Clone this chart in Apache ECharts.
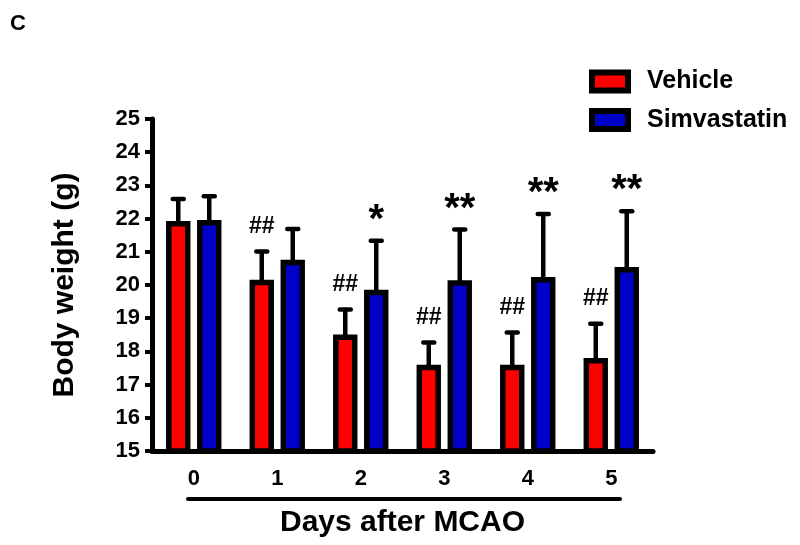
<!DOCTYPE html>
<html>
<head>
<meta charset="utf-8">
<script src="https://cdn.jsdelivr.net/npm/echarts@6/dist/echarts.min.js"></script>
<style>html,body{margin:0;padding:0;background:#fff}#c{width:800px;height:545px}</style>
</head>
<body>
<div id="c"></div>
<script>
// ---- data ----
const days = ['0', '1', '2', '3', '4', '5'];
const vehicleMean = [21.93, 20.16, 18.51, 17.60, 17.60, 17.80];
const vehicleErr  = [0.66, 0.85, 0.75, 0.67, 0.97, 1.03];
const simvaMean   = [21.96, 20.76, 19.86, 20.14, 20.24, 20.54];
const simvaErr    = [0.71, 0.93, 1.47, 1.53, 1.90, 1.68];
const vehicleSig  = ['', '##', '##', '##', '##', '##'];
const simvaSig    = ['', '', '*', '**', '**', '**'];
const yTicks = { min: 15, max: 25, interval: 1 };

const FONT = '"Liberation Sans", Arial, Helvetica, sans-serif';
const BAR_W = 24.4, BAR_GAP = 0.27;
const OFF = BAR_W * (1 + BAR_GAP) / 2;

function errRender(offset, sig) {
  return function (params, api) {
    const i = api.value(0), m = api.value(1), e = api.value(2);
    const base = api.coord([i, m]);
    const top = api.coord([i, m + e]);
    const x = base[0] + offset;
    const children = [
      { type: 'line', shape: { x1: x, y1: base[1] + 3, x2: x, y2: top[1] }, style: { stroke: '#000', lineWidth: 4.5 } },
      { type: 'line', shape: { x1: x - 5.5, y1: top[1], x2: x + 5.5, y2: top[1] }, style: { stroke: '#000', lineWidth: 4.5, lineCap: 'round' } }
    ];
    const s = sig[params.dataIndex];
    if (s) {
      const isStar = s[0] === '*';
      children.push({
        type: 'text', x: x, y: top[1] - (isStar ? 20 : 25),
        style: {
          text: s, align: 'center', verticalAlign: 'middle', fill: '#000',
          font: isStar ? 'bold 40px ' + FONT : 'bold 23px ' + FONT
        }
      });
    }
    return { type: 'group', children: children };
  };
}

const chart = echarts.init(document.getElementById('c'), null, { renderer: 'canvas' });
chart.setOption({
  animation: false,
  backgroundColor: '#fff',
  textStyle: { fontFamily: FONT, fontWeight: 'bold', color: '#000' },
  title: { text: 'C', left: 5, top: 8, textStyle: { fontFamily: FONT, fontWeight: 'bold', fontSize: 22, color: '#000' } },
  legend: {
    data: ['Vehicle', 'Simvastatin'],
    orient: 'vertical', left: 589, top: 69, padding: 0,
    itemWidth: 36, itemHeight: 18, itemGap: 13.5,
    icon: 'rect',
    itemStyle: { borderColor: '#000', borderWidth: 6 },
    textStyle: { fontFamily: FONT, fontWeight: 'bold', fontSize: 25, color: '#000', padding: [0, 0, 0, 14] },
    selectedMode: false
  },
  grid: { left: 152, right: 147, top: 119, bottom: 94, containLabel: false },
  xAxis: {
    type: 'category', data: days, boundaryGap: true,
    axisLine: { lineStyle: { color: '#000', width: 5 } },
    axisTick: { alignWithLabel: true, length: 9, lineStyle: { color: '#000', width: 4 } },
    axisLabel: { margin: 17, fontFamily: FONT, fontWeight: 'bold', fontSize: 22, color: '#000' },
    name: 'Days after MCAO', nameLocation: 'middle', nameGap: 57,
    nameTextStyle: { fontFamily: FONT, fontWeight: 'bold', fontSize: 30, color: '#000' }
  },
  yAxis: {
    type: 'value', min: yTicks.min, max: yTicks.max, interval: yTicks.interval,
    splitLine: { show: false },
    axisLine: { show: true, lineStyle: { color: '#000', width: 5 } },
    axisTick: { show: true, length: 7, lineStyle: { color: '#000', width: 4 } },
    axisLabel: { margin: 12, fontFamily: FONT, fontWeight: 'bold', fontSize: 22, color: '#000' },
    name: 'Body weight (g)', nameLocation: 'middle', nameGap: 72, nameRotate: 90,
    nameTextStyle: { fontFamily: FONT, fontWeight: 'bold', fontSize: 30, color: '#000' }
  },
  graphic: [{
    type: 'line', shape: { x1: 188, y1: 499, x2: 620, y2: 499 },
    style: { stroke: '#000', lineWidth: 4, lineCap: 'round' }, z: 10
  }],
  series: [
    {
      name: 'Vehicle', type: 'bar', data: vehicleMean, barWidth: BAR_W, barGap: (BAR_GAP * 100) + '%',
      itemStyle: { color: '#ff0000', borderColor: '#000', borderWidth: 5.5 },
      emphasis: { disabled: true }
    },
    {
      name: 'Simvastatin', type: 'bar', data: simvaMean, barWidth: BAR_W, barGap: (BAR_GAP * 100) + '%',
      itemStyle: { color: '#0000c8', borderColor: '#000', borderWidth: 5.5 },
      emphasis: { disabled: true }
    },
    {
      name: 'Vehicle SEM', type: 'custom', z: 5,
      renderItem: errRender(-OFF, vehicleSig),
      data: vehicleMean.map((v, i) => [i, v, vehicleErr[i]]),
      encode: { x: 0, y: 1 }, clip: false, silent: true
    },
    {
      name: 'Simvastatin SEM', type: 'custom', z: 5,
      renderItem: errRender(OFF, simvaSig),
      data: simvaMean.map((v, i) => [i, v, simvaErr[i]]),
      encode: { x: 0, y: 1 }, clip: false, silent: true
    }
  ]
});
</script>
</body>
</html>
